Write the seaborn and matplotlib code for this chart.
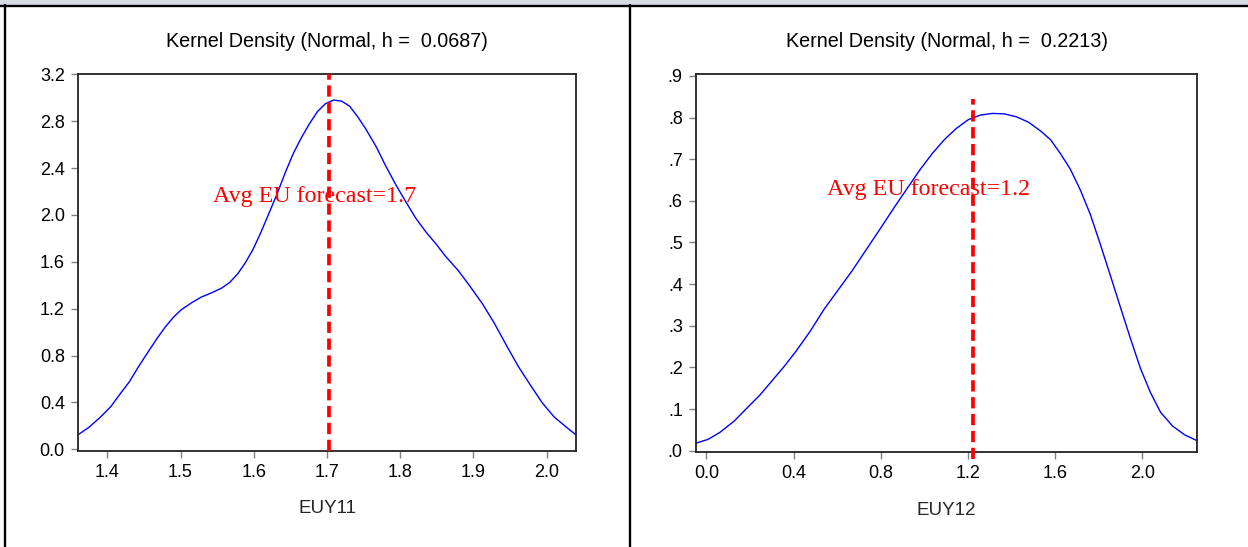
import matplotlib
matplotlib.use("Agg")
import matplotlib.pyplot as plt
from matplotlib.lines import Line2D
from matplotlib.patches import Rectangle
import seaborn as sns
import pandas as pd

# ---------------- data ----------------
euy11_x = [1.361, 1.375, 1.391, 1.405, 1.419, 1.430, 1.443, 1.457, 1.468, 1.479,
           1.490, 1.501, 1.515, 1.528, 1.542, 1.556, 1.567, 1.578, 1.588, 1.599,
           1.610, 1.621, 1.632, 1.643, 1.654, 1.665, 1.676, 1.687, 1.698, 1.709,
           1.720, 1.731, 1.742, 1.753, 1.767, 1.780, 1.794, 1.808, 1.821, 1.835,
           1.849, 1.862, 1.879, 1.895, 1.912, 1.928, 1.945, 1.961, 1.978, 1.994,
           2.010, 2.027, 2.039]
euy11_density = [0.128, 0.188, 0.277, 0.366, 0.485, 0.575, 0.709, 0.843, 0.947, 1.042,
                 1.125, 1.191, 1.250, 1.298, 1.334, 1.375, 1.423, 1.497, 1.587, 1.706,
                 1.855, 2.018, 2.182, 2.361, 2.525, 2.659, 2.778, 2.882, 2.950, 2.980,
                 2.971, 2.927, 2.837, 2.733, 2.584, 2.420, 2.257, 2.108, 1.974, 1.855,
                 1.751, 1.646, 1.527, 1.393, 1.244, 1.081, 0.887, 0.709, 0.545, 0.396,
                 0.277, 0.188, 0.128]

euy12_x = [-0.048, 0.007, 0.062, 0.127, 0.191, 0.246, 0.301, 0.356, 0.411, 0.476,
           0.540, 0.604, 0.668, 0.733, 0.797, 0.861, 0.926, 0.981, 1.036, 1.091,
           1.146, 1.201, 1.256, 1.311, 1.366, 1.421, 1.477, 1.532, 1.578, 1.623,
           1.669, 1.715, 1.761, 1.807, 1.853, 1.899, 1.945, 1.991, 2.037, 2.083,
           2.138, 2.193, 2.250]
euy12_density = [0.018, 0.027, 0.044, 0.071, 0.105, 0.134, 0.168, 0.202, 0.239, 0.287,
                 0.340, 0.386, 0.432, 0.483, 0.533, 0.584, 0.634, 0.676, 0.714, 0.747,
                 0.774, 0.795, 0.806, 0.810, 0.809, 0.802, 0.789, 0.768, 0.747, 0.714,
                 0.676, 0.626, 0.567, 0.495, 0.420, 0.344, 0.269, 0.197, 0.139, 0.092,
                 0.059, 0.038, 0.024]

titles = ["Kernel Density (Normal, h =  0.0687)", "Kernel Density (Normal, h =  0.2213)"]
xlabels = ["EUY11", "EUY12"]
forecast_values = [1.703, 1.2215]
forecast_labels = ["Avg EU forecast=1.7", "Avg EU forecast=1.2"]

x_ticks_11 = [1.4, 1.5, 1.6, 1.7, 1.8, 1.9, 2.0]
x_ticklabels_11 = ["1.4", "1.5", "1.6", "1.7", "1.8", "1.9", "2.0"]
y_ticks_11 = [0.0, 0.4, 0.8, 1.2, 1.6, 2.0, 2.4, 2.8, 3.2]
y_ticklabels_11 = ["0.0", "0.4", "0.8", "1.2", "1.6", "2.0", "2.4", "2.8", "3.2"]

x_ticks_12 = [0.0, 0.4, 0.8, 1.2, 1.6, 2.0]
x_ticklabels_12 = ["0.0", "0.4", "0.8", "1.2", "1.6", "2.0"]
y_ticks_12 = [0.0, 0.1, 0.2, 0.3, 0.4, 0.5, 0.6, 0.7, 0.8, 0.9]
y_ticklabels_12 = [".0", ".1", ".2", ".3", ".4", ".5", ".6", ".7", ".8", ".9"]

# ---------------- style ----------------
sns.set_style("ticks")
plt.rcParams["font.family"] = ["Liberation Sans", "DejaVu Sans"]

W, H = 1248, 547
fig = plt.figure(figsize=(W / 100, H / 100), dpi=100)
fig.patch.set_facecolor("white")

def px_axes(x0, x1, ytop, ybot):
    return fig.add_axes([x0 / W, 1 - ybot / H, (x1 - x0) / W, (ybot - ytop) / H])

ax1 = px_axes(78, 576, 74.3, 450.7)
ax2 = px_axes(696, 1197, 74.3, 452.3)

panels = [
    (ax1, euy11_x, euy11_density, (1.36, 2.04), (-0.012, 3.2),
     x_ticks_11, x_ticklabels_11, y_ticks_11, y_ticklabels_11,
     (1.683, 2.153), (-0.012, 3.3)),
    (ax2, euy12_x, euy12_density, (-0.048, 2.25), (-0.004, 0.904),
     x_ticks_12, x_ticklabels_12, y_ticks_12, y_ticklabels_12,
     (1.018, 0.628), (-0.021, 0.845)),
]

for i, (ax, xs, ys, xl, yl, xt, xtl, yt, ytl, txt_pos, vspan) in enumerate(panels):
    df = pd.DataFrame({"x": xs, "density": ys})
    sns.lineplot(data=df, x="x", y="density", ax=ax, color="#0000ff",
                 linewidth=1.0, sort=False)
    ax.set_xlim(*xl)
    ax.set_ylim(*yl)
    ax.set_xticks(xt, xtl)
    ax.set_yticks(yt, ytl)
    ax.tick_params(axis="both", direction="out", length=5, width=1.0,
                   color="#808080", labelsize=13, labelcolor="black", pad=4.5)
    for s in ax.spines.values():
        s.set_visible(True)
        s.set_color("#222222")
        s.set_linewidth(1.3)
    ax.set_title(titles[i], fontsize=14.2, pad=20, color="black")
    ax.set_xlabel(xlabels[i], fontsize=13.5)
    ax.xaxis.set_label_coords(0.5, -0.154)
    ax.xaxis.label.set_va("center")
    ax.set_ylabel("")
    ax.vlines(forecast_values[i], vspan[0], vspan[1], colors="#ff0000",
              linewidth=2.7, linestyles=(0, (3.0, 1.5)), clip_on=(i == 0),
              zorder=3)
    ax.text(txt_pos[0], txt_pos[1], forecast_labels[i], color="#ff0000",
            fontsize=17.3, family=["Liberation Serif", "DejaVu Serif"],
            ha="center", va="center", zorder=4)

# ---------------- frame decorations ----------------
fig.add_artist(Rectangle((0, 1 - 5 / H), 1, 5 / H, transform=fig.transFigure,
                         facecolor="#d6dce8", edgecolor="none", zorder=0))
fig.add_artist(Line2D([0, 1], [1 - 6 / H, 1 - 6 / H], transform=fig.transFigure,
                      color="black", linewidth=1.7))
fig.add_artist(Line2D([5 / W, 5 / W], [0, 1 - 5 / H], transform=fig.transFigure,
                      color="black", linewidth=1.7))
fig.add_artist(Line2D([630 / W, 630 / W], [0, 1 - 5 / H], transform=fig.transFigure,
                      color="black", linewidth=1.7))

fig.savefig("out.png", dpi=100, facecolor="white")
